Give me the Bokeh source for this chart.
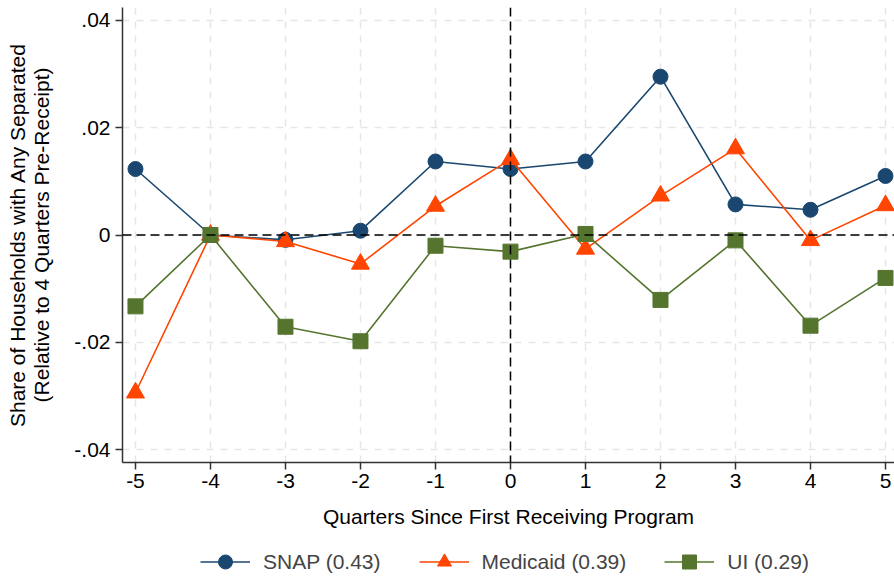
from bokeh.plotting import figure
from bokeh.layouts import column
from bokeh.models import Span, Legend, LegendItem, FixedTicker
from bokeh.embed import file_html
from bokeh.resources import INLINE

quarters = [-5, -4, -3, -2, -1, 0, 1, 2, 3, 4, 5]
snap = [0.0123, 0.0, -0.0009, 0.0008, 0.0137, 0.0123, 0.0137, 0.0295, 0.0057, 0.0047, 0.0110]
medicaid = [-0.0294, 0.0, -0.0012, -0.0054, 0.0054, 0.0141, -0.0026, 0.0073, 0.0161, -0.0010, 0.0055]
ui = [-0.0133, 0.0, -0.0171, -0.0198, -0.0020, -0.0031, 0.0002, -0.0121, -0.0010, -0.0169, -0.0080]

series_labels = ["SNAP (0.43)", "Medicaid (0.39)", "UI (0.29)"]
y_ticks = [-0.04, -0.02, 0, 0.02, 0.04]
y_tick_labels = ["-.04", "-.02", "0", ".02", ".04"]
x_ticks = quarters
x_tick_labels = ["-5", "-4", "-3", "-2", "-1", "0", "1", "2", "3", "4", "5"]
x_title = "Quarters Since First Receiving Program"
y_title = "Share of Households with Any Separated\n(Relative to 4 Quarters Pre-Receipt)"

FONT = "Liberation Sans"
FS = "21px"
AX = "#333333"

p = figure(width=894, height=533, x_range=(-5.173, 5.12), y_range=(-0.0424, 0.0424),
           output_backend="svg", toolbar_location=None,
           min_border_left=122, min_border_right=0, min_border_top=7, min_border_bottom=71)
p.outline_line_color = None
p.background_fill_color = "white"

p.xaxis.ticker = FixedTicker(ticks=x_ticks)
p.yaxis.ticker = FixedTicker(ticks=y_ticks)
p.xaxis.major_label_overrides = {t: l for t, l in zip(x_ticks, x_tick_labels)}
p.yaxis.major_label_overrides = {t: l for t, l in zip(y_ticks, y_tick_labels)}
for g in (p.xgrid, p.ygrid):
    g.grid_line_color = "#e6e6e6"
    g.grid_line_dash = "7 7"
    g.grid_line_width = 1.5

for ax in (p.xaxis, p.yaxis):
    ax.axis_line_color = AX
    ax.axis_line_width = 1.5
    ax.major_tick_line_color = AX
    ax.major_tick_line_width = 1.5
    ax.major_tick_out = 7
    ax.major_tick_in = 0
    ax.minor_tick_line_color = None
    ax.major_label_text_font = FONT
    ax.major_label_text_font_size = FS
    ax.major_label_text_color = "black"
    ax.axis_label_text_font = FONT
    ax.axis_label_text_font_size = FS
    ax.axis_label_text_font_style = "normal"
    ax.axis_label_text_color = "black"
    ax.axis_label_text_line_height = 1.05

p.xaxis.axis_label = x_title
p.yaxis.axis_label = y_title
p.xaxis.major_label_standoff = 4
p.yaxis.major_label_standoff = 5
p.xaxis.axis_label_standoff = 14
p.yaxis.axis_label_standoff = 18

p.add_layout(Span(location=0, dimension="width", line_color="black", line_width=1.5, line_dash="9 5"))
p.add_layout(Span(location=0, dimension="height", line_color="black", line_width=1.5, line_dash="9 5"))

colors = ["#1a476f", "#ff4500", "#55752f"]
markers = ["circle", "triangle", "square"]
sizes = [15, 18, 15]
for vals, c, m, s in zip([snap, medicaid, ui], colors, markers, sizes):
    p.line(quarters, vals, line_color=c, line_width=1.6)
    p.scatter(quarters, vals, marker=m, size=s, fill_color=c, line_color=c, line_width=1)

# legend strip below the chart (its frame is aligned with the chart's frame by the column)
lg = figure(width=894, height=45, x_range=(100, 101), y_range=(100, 101),
            output_backend="svg", toolbar_location=None,
            x_axis_location=None, y_axis_location=None,
            min_border_left=0, min_border_right=0, min_border_top=0, min_border_bottom=0)
lg.grid.visible = False
lg.outline_line_color = None
items = []
for vals, lab, c, m, s in zip([snap, medicaid, ui], series_labels, colors, markers, sizes):
    lr = lg.line(quarters, vals, line_color=c, line_width=1.6)
    sr = lg.scatter(quarters, vals, marker=m, size=s, fill_color=c, line_color=c, line_width=1)
    items.append(LegendItem(label=lab, renderers=[lr, sr]))
legend = Legend(items=items, orientation="horizontal", location=(78, -1),
                border_line_color=None, background_fill_alpha=0,
                label_text_font=FONT, label_text_font_size=FS,
                glyph_width=50, glyph_height=35, label_standoff=13, spacing=38,
                padding=0, margin=0)
lg.add_layout(legend)

layout = column(p, lg, spacing=0)
open("out.html", "w").write(file_html(layout, INLINE))
